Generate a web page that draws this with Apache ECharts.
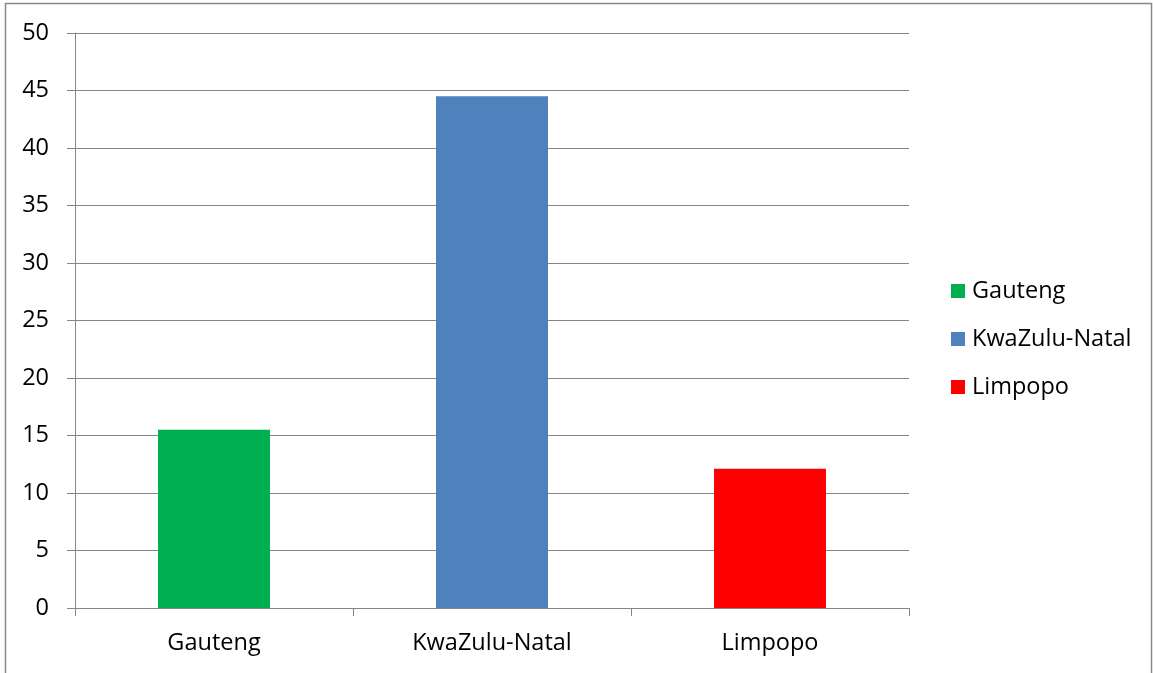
<!DOCTYPE html>
<html><head><meta charset="utf-8">
<script src="https://cdn.jsdelivr.net/npm/echarts@6/dist/echarts.min.js"></script>
<style>html,body{margin:0;padding:0;background:#fff}#c{width:1153px;height:673px}</style>
</head><body><div id="c"></div>
<script>
const categories = ['Gauteng', 'KwaZulu-Natal', 'Limpopo'];
const values = [15.5, 44.5, 12.1];
const colors = ['#00B050', '#4F81BD', '#FF0000'];
const yTicks = [0, 5, 10, 15, 20, 25, 30, 35, 40, 45, 50];

const chart = echarts.init(document.getElementById('c'));
const font = 'Open Sans, Liberation Sans, sans-serif';
const series = categories.map((name, i) => ({
  name: name,
  type: 'bar',
  stack: 'all',
  barWidth: 112,
  itemStyle: { color: colors[i] },
  data: categories.map((c, j) => j === i ? values[i] : null)
}));
chart.setOption({
  animation: false,
  graphic: [{ type: 'rect', shape: { x: 5.5, y: 3.5, width: 1146, height: 680 }, style: { fill: null, stroke: '#888', lineWidth: 1.5 }, silent: true }],
  grid: { left: 75, right: 244, top: 33, bottom: 65 },
  legend: {
    orient: 'vertical', left: 946, top: 274, itemWidth: 14, itemHeight: 14, itemGap: 24,
    icon: 'rect', textStyle: { fontSize: 23.5, lineHeight: 24, color: '#000', fontFamily: font, padding: [0, 0, 0, 2] },
    data: categories
  },
  xAxis: {
    type: 'category', data: categories,
    axisLine: { lineStyle: { color: '#868686', width: 1 } },
    axisTick: { show: true, length: 8, lineStyle: { color: '#868686' } },
    axisLabel: { color: '#000', fontSize: 23.5, fontFamily: font, margin: 23 }
  },
  yAxis: {
    type: 'value', min: yTicks[0], max: yTicks[yTicks.length - 1], interval: 5,
    axisLine: { show: true, lineStyle: { color: '#868686', width: 1 } },
    axisTick: { show: true, length: 8, lineStyle: { color: '#868686' } },
    splitLine: { lineStyle: { color: '#868686', width: 1 } },
    axisLabel: { color: '#000', fontSize: 23.5, fontFamily: font, margin: 26 }
  },
  series: series
});
</script></body></html>
